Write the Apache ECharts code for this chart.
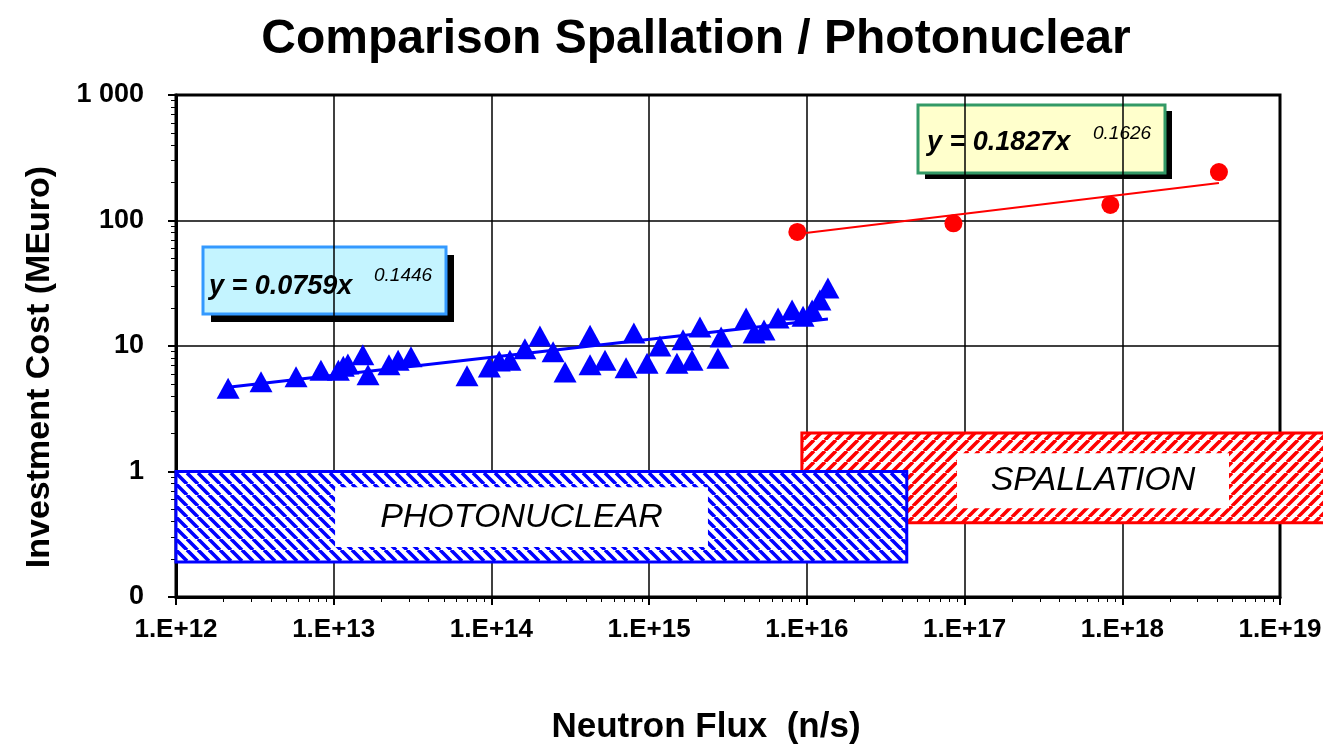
<!DOCTYPE html>
<html>
<head>
<meta charset="utf-8">
<script src="https://cdn.jsdelivr.net/npm/echarts@6/dist/echarts.min.js"></script>
<style>
html,body{margin:0;padding:0;background:#fff;}
#chart{width:1323px;height:746px;}
</style>
</head>
<body>
<div id="chart"></div>
<script>
// ---------- data ----------
const xTickValues = [1e12, 1e13, 1e14, 1e15, 1e16, 1e17, 1e18, 1e19];
const xTickLabels = ['1.E+12', '1.E+13', '1.E+14', '1.E+15', '1.E+16', '1.E+17', '1.E+18', '1.E+19'];
const yTickValues = [0.1, 1, 10, 100, 1000];
const yTickLabels = ['0', '1', '10', '100', '1 000'];

// photonuclear sources (n/s, MEuro)
const photoFlux = [2.14e12, 3.46e12, 5.77e12, 8.3e12, 1.07e13, 1.15e13, 1.23e13, 1.53e13, 1.65e13, 2.24e13,
  2.56e13, 3.09e13, 7.0e13, 9.7e13, 1.12e14, 1.31e14, 1.63e14, 2.03e14, 2.46e14, 2.93e14,
  4.22e14, 4.22e14, 5.25e14, 7.14e14, 8.0e14, 9.7e14, 1.17e15, 1.5e15, 1.64e15, 1.87e15,
  2.1e15, 2.73e15, 2.86e15, 4.12e15, 4.63e15, 5.35e15, 6.57e15, 8.06e15, 9.46e15, 1.08e16,
  1.21e16, 1.36e16];
const photoCost = [4.6, 5.2, 5.7, 6.4, 6.4, 6.9, 7.2, 8.5, 5.9, 7.1,
  7.7, 8.2, 5.8, 6.8, 7.6, 7.7, 9.5, 12.0, 9.0, 6.2,
  12.2, 7.1, 7.7, 6.7, 12.7, 7.3, 10.0, 7.3, 11.2, 7.7,
  14.2, 8.0, 11.8, 16.7, 12.7, 13.4, 16.7, 19.4, 17.3, 19.4,
  23.3, 29.0];

// spallation sources
const spallFlux = [8.7e15, 8.5e16, 8.4e17, 4.1e18];
const spallCost = [81, 95, 133, 243];

// power-law trend lines (end points)
const photoFitFlux = [2.14e12, 1.36e16];
const photoFitCost = [4.7, 16.4];
const spallFitFlux = [8.7e15, 4.1e18];
const spallFitCost = [78, 199];
const photoEquation = 'y = 0.0759x';
const photoExponent = '0.1446';
const spallEquation = 'y = 0.1827x';
const spallExponent = '0.1626';

// technology ranges (hatched bands)
const bandNames = ['SPALLATION', 'PHOTONUCLEAR'];
const bandFluxMin = [9.3e15, 1e12];
const bandFluxMax = [2e19, 4.3e16];
const bandCostMin = [0.39, 0.19];
const bandCostMax = [2.03, 1.0];
const bandLabelFluxMin = [8.95e16, 1.02e13];
const bandLabelFluxMax = [4.75e18, 2.36e15];
const bandLabelCostMin = [0.51, 0.25];
const bandLabelCostMax = [1.4, 0.75];
const bandColors = ['#ff0000', '#0000ff'];
const bandDirections = ['/', '\\'];

// ---------- helpers ----------
function hatch(color, dir) {
  const W = 11;
  const c = document.createElement('canvas');
  c.width = W; c.height = W;
  const g = c.getContext('2d');
  g.fillStyle = '#fff';
  g.fillRect(0, 0, W, W);
  g.strokeStyle = color;
  g.lineWidth = 3.6;
  g.beginPath();
  for (let k = -1; k <= 2; k++) {
    if (dir === '\\') { g.moveTo(k * W, 0); g.lineTo(k * W + W, W); }
    else { g.moveTo(k * W, 0); g.lineTo(k * W - W, W); }
  }
  g.stroke();
  return c;
}
const patterns = bandColors.map((c, i) => hatch(c, bandDirections[i]));

const FONT = '"Liberation Sans", Arial, sans-serif';

const bandData = bandNames.map((n, i) => [bandFluxMin[i], bandFluxMax[i], bandCostMin[i], bandCostMax[i],
  bandLabelFluxMin[i], bandLabelFluxMax[i], bandLabelCostMin[i], bandLabelCostMax[i], i]);

const chart = echarts.init(document.getElementById('chart'), null, {renderer: 'canvas'});

const option = {
  backgroundColor: '#ffffff',
  animation: false,
  title: {
    text: 'Comparison Spallation / Photonuclear',
    left: 691, top: 11, textAlign: 'center',
    textStyle: {fontFamily: FONT, fontWeight: 'bold', fontSize: 48, color: '#000'}
  },
  grid: {left: 176, right: 43, top: 95, bottom: 149, outerBoundsMode: 'none', containLabel: false,
    show: true, borderColor: '#000', borderWidth: 3, backgroundColor: 'transparent'},
  xAxis: {
    type: 'log', logBase: 10, min: 1e12, max: 1e19, interval: 1, splitNumber: 7,
    axisLine: {show: true, lineStyle: {color: '#000', width: 3}},
    axisTick: {show: true, length: 8, lineStyle: {color: '#000', width: 2}},
    minorTick: {show: true, splitNumber: 9, length: 5, lineStyle: {color: '#000', width: 1}},
    splitLine: {show: true, lineStyle: {color: '#000', width: 1.5}},
    axisLabel: {
      margin: 20, fontFamily: FONT, fontWeight: 'bold', fontSize: 26, color: '#000',
      formatter: v => { const i = xTickValues.findIndex(t => Math.abs(Math.log10(t) - Math.log10(v)) < 1e-6); return i >= 0 ? xTickLabels[i] : ''; }
    }
  },
  yAxis: {
    type: 'log', logBase: 10, min: 0.1, max: 1000, interval: 1, splitNumber: 4,
    axisLine: {show: true, lineStyle: {color: '#000', width: 3}},
    axisTick: {show: true, length: 8, lineStyle: {color: '#000', width: 2}},
    minorTick: {show: true, splitNumber: 9, length: 5, lineStyle: {color: '#000', width: 1}},
    splitLine: {show: true, lineStyle: {color: '#000', width: 1.5}},
    axisLabel: {
      margin: 32, fontFamily: FONT, fontWeight: 'bold', fontSize: 27, color: '#000',
      formatter: v => { const i = yTickValues.findIndex(t => Math.abs(Math.log10(t) - Math.log10(v)) < 1e-6); return i >= 0 ? yTickLabels[i] : ''; }
    }
  },
  series: [
    {
      type: 'custom', name: 'ranges', clip: false, z: 3,
      data: bandData,
      encode: {x: [0, 1], y: [2, 3]},
      renderItem: function (params, api) {
        const i = api.value(8);
        const tl = api.coord([api.value(0), api.value(3)]);
        const br = api.coord([api.value(1), api.value(2)]);
        const ltl = api.coord([api.value(4), api.value(7)]);
        const lbr = api.coord([api.value(5), api.value(6)]);
        return {
          type: 'group',
          children: [
            {type: 'rect', shape: {x: tl[0], y: tl[1], width: br[0] - tl[0], height: br[1] - tl[1]},
              style: {fill: {image: patterns[i], repeat: 'repeat'}, stroke: bandColors[i], lineWidth: 3}},
            {type: 'rect', shape: {x: ltl[0], y: ltl[1], width: lbr[0] - ltl[0], height: lbr[1] - ltl[1]},
              style: {fill: '#ffffff'}},
            {type: 'text', x: (ltl[0] + lbr[0]) / 2, y: (ltl[1] + lbr[1]) / 2,
              style: {text: bandNames[i], fill: '#000', font: 'italic 34px ' + FONT, align: 'center', verticalAlign: 'middle'}}
          ]
        };
      }
    },
    {
      type: 'line', name: 'photo fit', data: photoFitFlux.map((x, i) => [x, photoFitCost[i]]),
      showSymbol: false, symbol: 'none', lineStyle: {color: '#0000ff', width: 3}, z: 4
    },
    {
      type: 'line', name: 'spall fit', data: spallFitFlux.map((x, i) => [x, spallFitCost[i]]),
      showSymbol: false, symbol: 'none', lineStyle: {color: '#ff0000', width: 2}, z: 4
    },
    {
      type: 'scatter', name: 'Photonuclear', data: photoFlux.map((x, i) => [x, photoCost[i]]),
      symbol: 'triangle', symbolSize: [23, 21], itemStyle: {color: '#0000ff', opacity: 1}, z: 5
    },
    {
      type: 'scatter', name: 'Spallation', data: spallFlux.map((x, i) => [x, spallCost[i]]),
      symbol: 'circle', symbolSize: 18, itemStyle: {color: '#ff0000', opacity: 1}, z: 5
    }
  ],
  graphic: [
    // y axis title
    {type: 'text', x: 40, y: 367, rotation: Math.PI / 2, z: 10,
      style: {text: 'Investment Cost (MEuro)', font: 'bold 34px ' + FONT, fill: '#000', align: 'center', verticalAlign: 'middle'}},
    // x axis title
    {type: 'text', x: 706, y: 727, z: 10,
      style: {text: 'Neutron Flux  (n/s)', font: 'bold 35px ' + FONT, fill: '#000', align: 'center', verticalAlign: 'middle'}},
    // photonuclear equation box
    {type: 'group', z: 20, children: [
      {type: 'rect', shape: {x: 211, y: 255, width: 243, height: 67}, style: {fill: '#000'}},
      {type: 'rect', shape: {x: 203, y: 247, width: 243, height: 67}, style: {fill: '#c4f4ff', stroke: '#3399ff', lineWidth: 3}},
      {type: 'text', x: 209, y: 287, style: {text: photoEquation, font: 'italic bold 27px ' + FONT, fill: '#000', align: 'left', verticalAlign: 'middle'}},
      {type: 'text', x: 374, y: 276, style: {text: photoExponent, font: 'italic 19px ' + FONT, fill: '#000', align: 'left', verticalAlign: 'middle'}}
    ]},
    // spallation equation box
    {type: 'group', z: 20, children: [
      {type: 'rect', shape: {x: 925, y: 111, width: 247, height: 68}, style: {fill: '#000'}},
      {type: 'rect', shape: {x: 918, y: 105, width: 247, height: 68}, style: {fill: '#ffffcc', stroke: '#339966', lineWidth: 3}},
      {type: 'text', x: 927, y: 143, style: {text: spallEquation, font: 'italic bold 27px ' + FONT, fill: '#000', align: 'left', verticalAlign: 'middle'}},
      {type: 'text', x: 1093, y: 134, style: {text: spallExponent, font: 'italic 19px ' + FONT, fill: '#000', align: 'left', verticalAlign: 'middle'}}
    ]}
  ]
};
chart.setOption(option);
</script>
</body>
</html>
